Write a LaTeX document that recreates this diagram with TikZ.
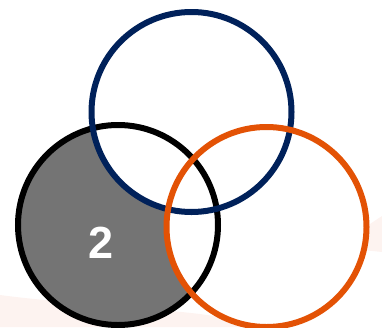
\documentclass[tikz,border=0pt]{standalone}
\usepackage{fontspec}
\setmainfont{Liberation Sans}
\usetikzlibrary{positioning}
\definecolor{cNavy}{HTML}{00215A}
\definecolor{cOrange}{HTML}{E35205}
\definecolor{cInk}{HTML}{000000}
\definecolor{cShade}{HTML}{747474}
\definecolor{cBlush}{HTML}{FDF3F0}
\tikzset{
  ring/.style={
    circle, draw=#1, line width=6pt, minimum size=200pt, inner sep=0pt
  },
  disc/.style={
    fill=#1
  },
  countlabel/.style={
    font=\fontsize{45}{45}\selectfont\bfseries, text=white
  },
}

\begin{document}
\begin{tikzpicture}[x=1pt, y=-1pt]
\useasboundingbox (0,0) rectangle (382,327);

% ---- centres ----
\coordinate (cleft)  at (118,225);
\coordinate (ctop)   at (191.5,112);
\coordinate (cright) at (266.5,227);

% ---- faint backdrop ----
\fill[cBlush] (0,295) .. controls (60,303) and (150,308) .. (200,314)
  -- (290,327) -- (0,327) -- cycle;
\fill[cBlush] (382,216) -- (335,247) -- (382,252) -- cycle;

% ---- fills ----
\fill[disc=white] (cleft) circle (100) (ctop) circle (100) (cright) circle (100);
\fill[disc=cShade] (cleft) circle (100);
\fill[disc=white] (ctop) circle (100) (cright) circle (100);

% ---- rings ----
\node[ring=cInk] (left) at (cleft) {};
\node[ring=cNavy] (top) at (ctop) {};
\node[ring=cOrange] (right) at (cright) {};

% ---- label ----
\node[countlabel] (only) at (101,243) {2};

\end{tikzpicture}
\end{document}
